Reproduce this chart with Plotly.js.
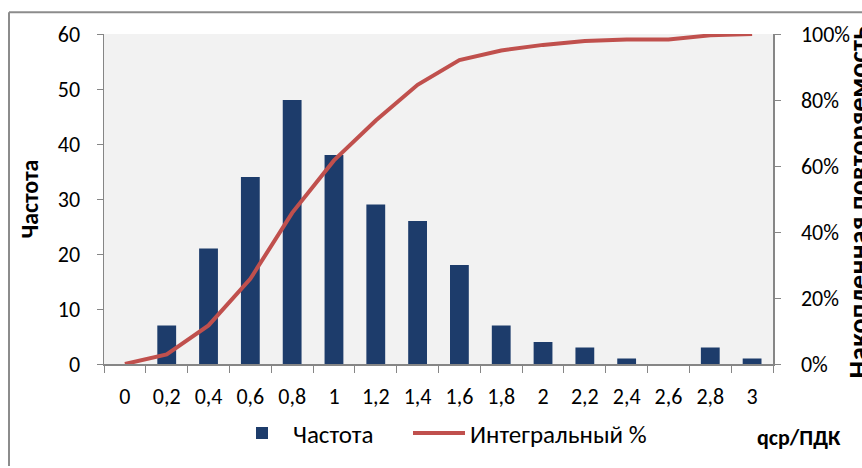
<!DOCTYPE html>
<html>
<head>
<meta charset="utf-8">
<script src="https://cdn.plot.ly/plotly-3.0.1.min.js"></script>
<style>
  html, body { margin: 0; padding: 0; background: #fff; }
  #chart { width: 862px; height: 468px; }
</style>
</head>
<body>
<div id="chart"></div>
<script>
// Categories (qср/ПДК)
const categories = ["0", "0,2", "0,4", "0,6", "0,8", "1", "1,2", "1,4", "1,6", "1,8", "2", "2,2", "2,4", "2,6", "2,8", "3"];
// Frequency (Частота)
const frequency = [0, 7, 21, 34, 48, 38, 29, 26, 18, 7, 4, 3, 1, 0, 3, 1];
// Cumulative percent (Интегральный %)
const cumulativePct = [0, 2.9, 11.7, 25.8, 45.8, 61.7, 73.8, 84.6, 92.1, 95.0, 96.7, 97.9, 98.3, 98.3, 99.6, 100];
// Tick labels
const leftTicks = [0, 10, 20, 30, 40, 50, 60];
const rightTicks = [0, 20, 40, 60, 80, 100];
const rightTickText = ["0%", "20%", "40%", "60%", "80%", "100%"];

const FONT = "Carlito, 'Liberation Sans Narrow', Calibri, 'Noto Sans', sans-serif";
const AXIS_GREY = "#868686";
const TICK_SIZE = 22;

const barTrace = {
  type: "bar",
  name: "Частота",
  x: categories,
  y: frequency,
  width: 0.45,
  marker: { color: "#1d3c6b", line: { color: "#0e1e38", width: 0 } },
  yaxis: "y",
  legend: "legend"
};

const lineTrace = {
  type: "scatter",
  mode: "lines",
  name: "Интегральный %",
  x: categories,
  y: cumulativePct,
  line: { color: "#c0504d", width: 4 },
  yaxis: "y2",
  legend: "legend2"
};

const legendBase = {
  orientation: "h",
  yanchor: "middle",
  y: -0.21,
  xanchor: "left",
  font: { family: FONT, size: 25, color: "#000" },
  itemwidth: 52,
  bgcolor: "rgba(0,0,0,0)"
};

const layout = {
  width: 862,
  height: 468,
  margin: { l: 104, r: 89, t: 34, b: 101 },
  paper_bgcolor: "#ffffff",
  plot_bgcolor: "#f2f2f2",
  font: { family: FONT, size: TICK_SIZE, color: "#000" },
  showlegend: true,
  legend: Object.assign({}, legendBase, { x: (231 - 104) / 669 }),
  legend2: Object.assign({}, legendBase, { x: (408 - 104) / 669 }),
  xaxis: {
    type: "category",
    tickvals: categories,
    ticktext: categories,
    range: [-0.5, 15.5],
    tickson: "boundaries",
    ticks: "outside",
    ticklen: 7,
    tickcolor: AXIS_GREY,
    showline: true,
    linecolor: AXIS_GREY,
    linewidth: 1.5,
    showgrid: false,
    zeroline: false,
    ticklabelstandoff: 12,
    tickfont: { family: FONT, size: TICK_SIZE, color: "#000" }
  },
  yaxis: {
    range: [0, 60],
    tickvals: leftTicks,
    ticks: "outside",
    ticklen: 6,
    tickcolor: AXIS_GREY,
    showline: true,
    linecolor: AXIS_GREY,
    linewidth: 1.5,
    showgrid: false,
    zeroline: false,
    ticklabelstandoff: 12,
    tickfont: { family: FONT, size: TICK_SIZE, color: "#000" },
    title: { text: "<b>Частота</b>", font: { family: FONT, size: 24, color: "#000" }, standoff: 12 }
  },
  yaxis2: {
    overlaying: "y",
    side: "right",
    range: [0, 100],
    tickvals: rightTicks,
    ticktext: rightTickText,
    ticks: "outside",
    ticklen: 6,
    tickcolor: AXIS_GREY,
    showline: true,
    linecolor: AXIS_GREY,
    linewidth: 1.5,
    showgrid: false,
    zeroline: false,
    ticklabelstandoff: 16,
    tickfont: { family: FONT, size: TICK_SIZE, color: "#000" }
  },
  annotations: [
    {
      text: "<b>qср/ПДК</b>",
      xref: "paper", yref: "paper",
      x: (799 - 104) / 669, y: (367 - 441) / 333,
      xanchor: "center", yanchor: "middle",
      showarrow: false,
      font: { family: FONT, size: 22, color: "#000" }
    },
    {
      text: "<b>Накопленная повторяемость</b>",
      xref: "paper", yref: "paper",
      x: (858 - 104) / 669, y: (367 - 204) / 333,
      xanchor: "center", yanchor: "middle",
      textangle: -90,
      showarrow: false,
      font: { family: FONT, size: 28, color: "#000" }
    }
  ],
  shapes: [
    { type: "line", xref: "paper", yref: "paper", x0: (9 - 104) / 669, x1: (9 - 104) / 669, y0: (367 - 12) / 333, y1: (367 - 470) / 333, line: { color: "#8c8c8c", width: 2 } },
    { type: "line", xref: "paper", yref: "paper", x0: (9 - 104) / 669, x1: (870 - 104) / 669, y0: (367 - 12) / 333, y1: (367 - 12) / 333, line: { color: "#8c8c8c", width: 2 } }
  ]
};

Plotly.newPlot("chart", [barTrace, lineTrace], layout, { displayModeBar: false, staticPlot: true });
</script>
</body>
</html>
